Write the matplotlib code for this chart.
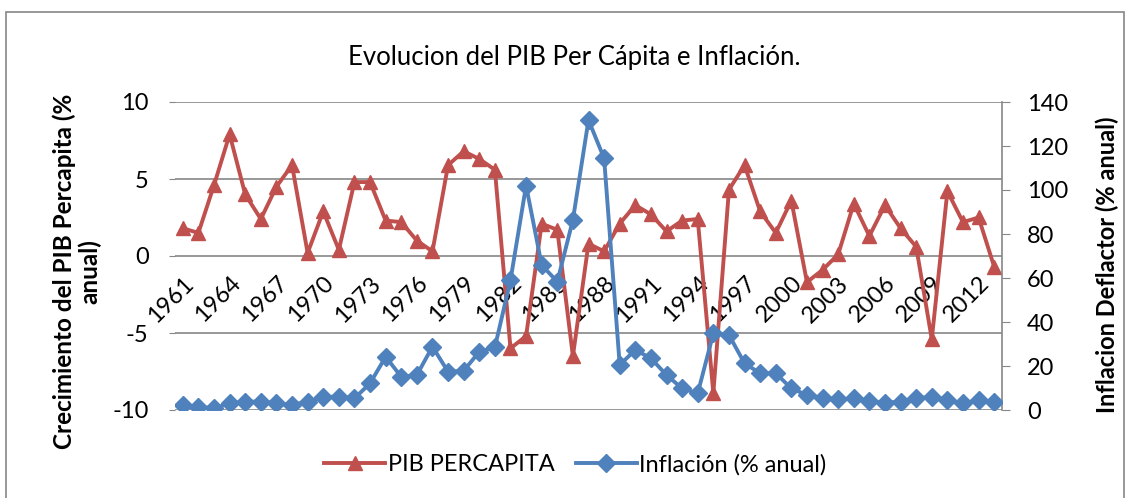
import numpy as np
import matplotlib.pyplot as plt
from matplotlib.patches import Rectangle
from matplotlib.lines import Line2D

plt.rcParams['font.family'] = ['Lato', 'DejaVu Sans']
plt.rcParams['axes.unicode_minus'] = False

years = list(range(1961, 2014))
pib = [1.8, 1.5, 4.6, 7.9, 4.0, 2.4, 4.5, 5.9, 0.2, 2.9,
       0.4, 4.8, 4.8, 2.3, 2.2, 1.0, 0.3, 5.9, 6.8, 6.3,
       5.6, -6.0, -5.2, 2.1, 1.7, -6.5, 0.8, 0.3, 2.1, 3.3,
       2.7, 1.6, 2.3, 2.4, -8.9, 4.3, 5.9, 2.9, 1.5, 3.6,
       -1.7, -0.9, 0.1, 3.4, 1.3, 3.3, 1.8, 0.6, -5.4, 4.2,
       2.2, 2.5, -0.7]
inflacion = [2.3, 1.5, 0.8, 3.0, 3.8, 3.8, 3.0, 2.3, 3.8, 6.0,
             6.0, 5.3, 12.1, 24.2, 15.1, 15.9, 28.8, 17.4, 17.8, 26.5,
             28.5, 59.0, 102.0, 65.9, 58.3, 86.4, 131.8, 114.4, 20.5, 27.3,
             23.5, 15.9, 9.8, 7.6, 34.8, 34.1, 21.2, 16.7, 16.7, 9.8,
             6.8, 5.5, 4.8, 5.3, 4.2, 3.3, 3.8, 5.3, 6.0, 4.5,
             3.0, 4.5, 3.8]
left_ticks = [-10, -5, 0, 5, 10]
right_ticks = [0, 20, 40, 60, 80, 100, 120, 140]

red = '#C0504D'
blue = '#4F81BD'
grid = '#868686'
fs = 17

fig = plt.figure(figsize=(11.28, 4.98), dpi=100)
fig.patches.append(Rectangle((6 / 1128, -0.01), 1118 / 1128, 1 - 12 / 498 + 0.01,
                             transform=fig.transFigure, fill=False,
                             edgecolor=grid, linewidth=1.2))

ax = fig.add_axes([175 / 1128, 88 / 498, 827 / 1128, 308 / 498])
ax2 = ax.twinx()

x = np.arange(len(years))
ax.plot(x, pib, color=red, lw=2.8, marker='^', ms=10, zorder=3)
ax2.plot(x, inflacion, color=blue, lw=2.8, marker='D', ms=9, zorder=3)

ax.set_xlim(-0.5, len(years) - 0.5)
ax.set_ylim(-10, 10)
ax2.set_ylim(0, 140)
ax.set_yticks(left_ticks)
ax2.set_yticks(right_ticks)
ax.yaxis.grid(True, color=grid, lw=1.2)
ax.set_axisbelow(True)

# category axis crosses the left scale at 0
ax.spines['bottom'].set_position(('data', 0))
ax.set_xticks(x[::3])
ax.set_xticklabels([str(y) for y in years[::3]], rotation=45, ha='right',
                   va='top', rotation_mode='anchor', fontsize=fs)
ax.tick_params(axis='x', length=0, pad=12)
ax.tick_params(axis='y', labelsize=fs, color=grid, length=4, pad=15)
ax2.tick_params(axis='y', labelsize=fs, color=grid, length=6, pad=12)

for a in (ax, ax2):
    for s in ['top', 'left', 'bottom', 'right']:
        a.spines[s].set_visible(False)
ax2.spines['right'].set_visible(True)
ax2.spines['right'].set_color(grid)
ax2.spines['right'].set_linewidth(1.2)

fig.text(0.068, 0.455, 'Crecimiento del PIB Percapita (%\nanual)', rotation=90,
         ha='center', va='center', fontsize=17.5, fontweight='bold',
         multialignment='center', linespacing=1.1)
fig.text(0.982, 0.468, 'Inflacion Deflactor (% anual)', rotation=90,
         ha='center', va='center', fontsize=fs, fontweight='bold')
fig.text(0.509, 0.884, 'Evolucion del PIB Per Cápita e Inflación.',
         ha='center', va='center', fontsize=18.5)

handles = [Line2D([], [], color=red, lw=2.8, marker='^', ms=10),
           Line2D([], [], color=blue, lw=2.8, marker='D', ms=9)]
fig.legend(handles, ['PIB PERCAPITA', 'Inflación (% anual)'], loc='center',
           bbox_to_anchor=(0.51, 0.067), ncol=2, frameon=False, fontsize=fs,
           handlelength=2.6, columnspacing=0.9, handletextpad=0.1)

fig.savefig('out.png', dpi=100)
